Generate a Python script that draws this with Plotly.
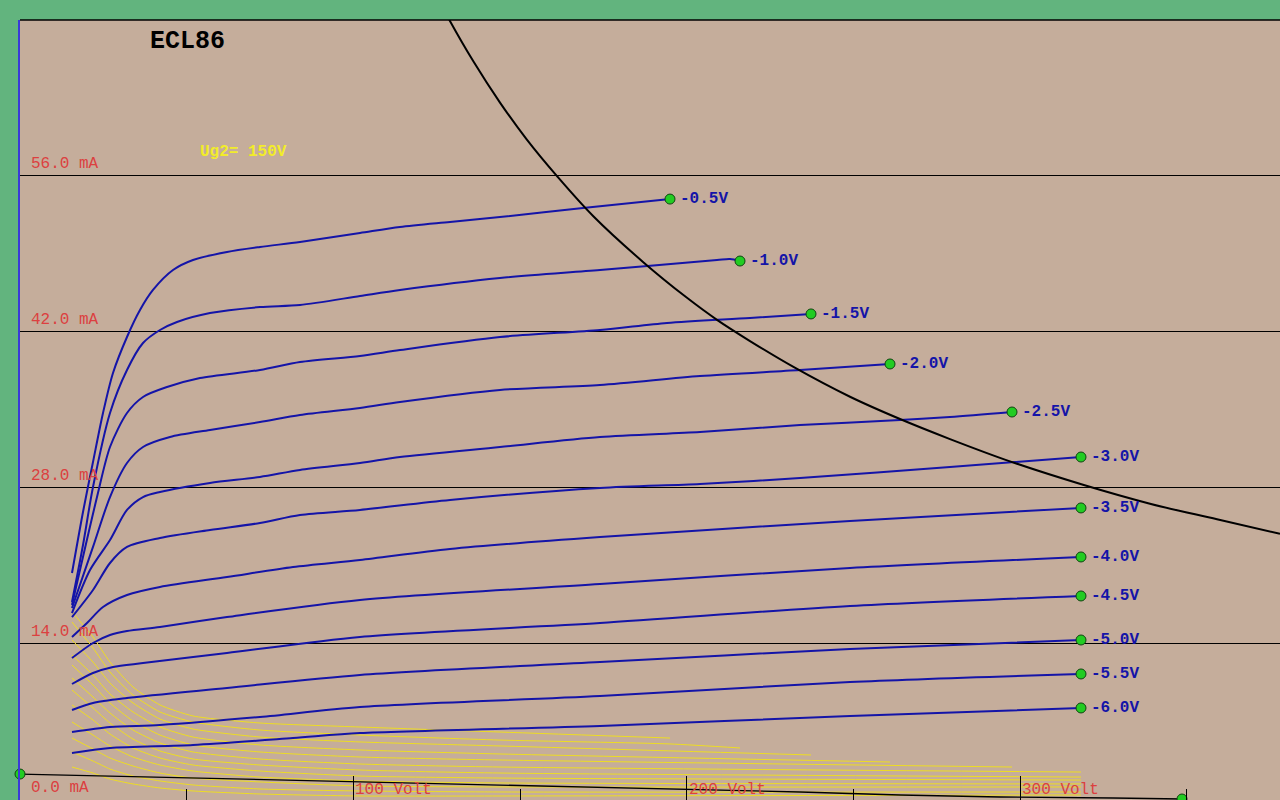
import plotly.graph_objects as go

# ---------------- data ----------------
grid_labels = ["-0.5V", "-1.0V", "-1.5V", "-2.0V", "-2.5V", "-3.0V",
               "-3.5V", "-4.0V", "-4.5V", "-5.0V", "-5.5V", "-6.0V"]

# plate current Ia (mA) vs plate voltage Va (V)
ia_v = [
    [15.6, 18.9, 21.9, 24.9, 27.9, 32.1, 36.0, 39.9, 45.9, 51.9, 62.1, 72.0, 84.0, 102.0, 114.0, 129.0, 144.0, 168.9, 195.0],
    [15.6, 18.9, 21.9, 27.0, 32.1, 36.9, 42.0, 47.1, 57.0, 72.0, 84.0, 102.0, 114.0, 144.0, 174.0, 209.1, 213.0, 216.0],
    [15.6, 23.1, 27.0, 32.1, 36.9, 44.1, 54.0, 72.0, 84.0, 102.0, 114.0, 144.0, 174.0, 194.1, 219.0, 237.3],
    [15.6, 21.9, 27.0, 32.1, 36.9, 45.0, 57.0, 72.0, 84.0, 102.0, 114.0, 144.0, 174.0, 204.0, 234.0, 261.0],
    [15.6, 21.0, 27.0, 32.1, 36.9, 42.0, 57.0, 72.0, 84.0, 102.0, 114.0, 144.0, 174.0, 204.0, 234.0, 264.0, 279.0, 297.6],
    [15.6, 21.9, 27.0, 32.1, 42.0, 57.0, 72.0, 84.0, 102.0, 129.0, 174.0, 204.0, 234.0, 279.0, 318.3],
    [15.6, 20.1, 24.9, 32.1, 42.0, 62.1, 81.9, 102.0, 129.0, 174.0, 249.0, 318.3],
    [15.6, 21.9, 27.0, 32.1, 42.0, 62.1, 102.0, 174.0, 249.0, 318.3],
    [15.6, 21.9, 27.9, 36.9, 62.1, 102.0, 174.0, 249.0, 318.3],
    [15.6, 21.9, 32.1, 62.1, 102.0, 174.0, 249.0, 318.3],
    [15.6, 27.0, 42.0, 72.0, 102.0, 174.0, 249.0, 318.3],
    [15.6, 27.0, 51.9, 81.9, 102.0, 174.0, 249.0, 318.3],
]
ia_ma = [
    [20.28, 25.76, 30.24, 34.64, 38.23, 41.46, 43.88, 45.68, 47.47, 48.37, 49.09, 49.54, 49.99, 50.80, 51.34, 51.79, 52.23, 53.04, 53.84],
    [17.68, 22.79, 28.00, 34.64, 38.50, 40.92, 42.09, 42.81, 43.61, 44.15, 44.33, 45.14, 45.68, 46.76, 47.47, 48.37, 48.46, 48.28],
    [17.41, 27.10, 31.59, 34.64, 36.08, 36.97, 37.78, 38.50, 39.22, 39.76, 40.29, 41.46, 42.09, 42.72, 43.17, 43.53],
    [17.14, 22.62, 27.10, 30.15, 31.59, 32.49, 33.12, 33.83, 34.46, 35.09, 35.63, 36.71, 37.15, 37.96, 38.50, 39.04],
    [16.69, 20.55, 23.24, 25.94, 27.10, 27.55, 28.36, 28.90, 29.53, 30.15, 30.69, 31.59, 32.49, 32.94, 33.56, 34.01, 34.28, 34.73],
    [16.33, 18.76, 21.18, 22.62, 23.42, 24.14, 24.77, 25.49, 25.94, 26.83, 27.91, 28.27, 28.81, 29.79, 30.69],
    [14.54, 15.79, 17.23, 18.31, 19.03, 19.92, 20.82, 21.45, 22.44, 23.51, 24.95, 26.12],
    [12.65, 14.00, 14.72, 15.08, 15.44, 16.33, 17.86, 19.29, 20.73, 21.72],
    [10.32, 11.31, 11.85, 12.20, 13.10, 14.54, 15.79, 17.32, 18.22],
    [7.99, 8.62, 9.06, 9.96, 11.13, 12.29, 13.46, 14.27],
    [6.01, 6.46, 6.64, 7.36, 8.26, 9.24, 10.50, 11.22],
    [4.13, 4.58, 4.85, 5.47, 5.92, 6.55, 7.45, 8.17],
]

# screen grid current Ig2 (mA) vs plate voltage
ig2_v = [
    [15.6, 21.9, 27.0, 33.9, 42.0, 51.9, 72.0, 102.0, 144.0, 195.0],
    [15.6, 21.9, 27.0, 33.9, 42.0, 51.9, 72.0, 102.0, 144.0, 195.0, 216.0],
    [15.6, 21.9, 27.0, 33.9, 42.0, 51.9, 72.0, 102.0, 144.0, 237.3],
    [15.6, 21.9, 27.0, 33.9, 42.0, 51.9, 72.0, 102.0, 144.0, 261.0],
    [15.6, 21.9, 27.0, 33.9, 42.0, 51.9, 72.0, 102.0, 144.0, 297.6],
    [15.6, 21.9, 27.0, 33.9, 42.0, 51.9, 72.0, 102.0, 144.0, 318.3],
    [15.6, 21.9, 27.0, 33.9, 42.0, 51.9, 72.0, 102.0, 144.0, 318.3],
    [15.6, 21.9, 27.0, 33.9, 42.0, 51.9, 72.0, 102.0, 144.0, 318.3],
    [15.6, 21.9, 27.0, 33.9, 42.0, 51.9, 72.0, 102.0, 144.0, 318.3],
    [15.6, 21.9, 27.0, 33.9, 42.0, 51.9, 72.0, 102.0, 144.0, 318.3],
    [15.6, 21.9, 27.0, 33.9, 42.0, 51.9, 72.0, 102.0, 144.0, 318.3],
    [15.6, 21.9, 27.0, 33.9, 42.0, 51.9, 72.0, 102.0, 144.0, 318.3],
]
ig2_ma = [
    [16.78, 14.54, 12.29, 10.05, 8.44, 7.45, 6.82, 6.46, 6.01, 5.47],
    [15.88, 13.55, 11.40, 9.33, 7.81, 6.91, 6.19, 5.74, 5.29, 4.94, 4.58],
    [14.27, 12.29, 10.41, 8.62, 7.18, 6.28, 5.56, 5.12, 4.76, 3.95],
    [12.92, 11.13, 9.42, 7.81, 6.46, 5.56, 4.85, 4.40, 4.04, 3.32],
    [12.02, 10.23, 8.62, 7.00, 5.74, 4.85, 4.22, 3.77, 3.50, 2.87],
    [10.86, 9.15, 7.72, 6.19, 5.03, 4.22, 3.59, 3.14, 2.87, 2.42],
    [9.78, 8.17, 6.82, 5.38, 4.31, 3.59, 3.05, 2.60, 2.33, 1.97],
    [8.44, 7.09, 5.83, 4.58, 3.68, 3.05, 2.51, 2.06, 1.88, 1.70],
    [6.91, 5.74, 4.76, 3.77, 3.05, 2.51, 1.97, 1.62, 1.44, 1.35],
    [5.47, 4.49, 3.68, 2.96, 2.33, 1.88, 1.53, 1.17, 1.08, 1.08],
    [4.22, 3.41, 2.69, 2.06, 1.62, 1.26, 0.90, 0.72, 0.63, 0.63],
    [2.87, 2.33, 1.79, 1.35, 0.99, 0.72, 0.45, 0.27, 0.27, 0.36],
]

# max plate dissipation curve
pmax_v = [122.0, 128.1, 136.0, 144.0, 152.0, 161.1, 172.0, 186.9, 200.0, 209.1, 219.0,
          231.9, 249.0, 264.0, 279.0, 297.0, 318.9, 339.0, 359.1, 378.0]
pmax_ma = [73.8, 70.3, 66.2, 62.5, 59.2, 55.9, 52.3, 48.2, 45.0, 43.0, 41.1,
           38.8, 36.1, 34.1, 32.3, 30.3, 28.2, 26.5, 25.1, 23.8]

# low current line along the bottom
low_v = [0.0, 39.9, 69.9, 99.9, 129.0, 167.1, 194.1, 234.0, 264.0, 294.0, 327.9, 348.6]
low_ma = [2.24, 1.97, 1.79, 1.53, 1.35, 1.08, 0.90, 0.63, 0.36, 0.18, 0.09, 0.0]

y_ticks = [0, 14, 28, 42, 56]
y_tick_labels = ["0.0 mA", "14.0 mA", "28.0 mA", "42.0 mA", "56.0 mA"]
x_ticks = [100, 200, 300]
x_tick_labels = ["100 Volt", "200 Volt", "300 Volt"]

title_text = "ECL86"
ug2_text = "Ug2= 150V"

# ---------------- styling ----------------
BLUE = "#1414A8"
YELLOW = "#EEDD22"
RED = "#DC4040"
GREEN_DOT = "#22CC22"
MONO = "Liberation Mono, Courier New, monospace"

fig = go.Figure()

# screen current curves (yellow)
for v, i in zip(ig2_v, ig2_ma):
    fig.add_trace(go.Scatter(x=v, y=i, mode="lines",
                             line=dict(color=YELLOW, width=1, shape="spline", smoothing=0.6),
                             hoverinfo="skip", showlegend=False))

# low-current line
fig.add_trace(go.Scatter(x=low_v, y=low_ma, mode="lines",
                         line=dict(color="black", width=1.3),
                         hoverinfo="skip", showlegend=False))
fig.add_trace(go.Scatter(x=[low_v[0], low_v[-1]], y=[low_ma[0], low_ma[-1]], mode="markers",
                         marker=dict(color=GREEN_DOT, size=10, line=dict(color="#114411", width=1)),
                         cliponaxis=False, hoverinfo="skip", showlegend=False))

# plate current curves (blue)
for v, i, lab in zip(ia_v, ia_ma, grid_labels):
    fig.add_trace(go.Scatter(x=v, y=i, mode="lines",
                             line=dict(color=BLUE, width=2, shape="spline", smoothing=0.8),
                             name=lab, showlegend=False))

# max dissipation curve
fig.add_trace(go.Scatter(x=pmax_v, y=pmax_ma, mode="lines",
                         line=dict(color="black", width=2, shape="spline", smoothing=1.0),
                         hoverinfo="skip", showlegend=False))

# end markers
fig.add_trace(go.Scatter(x=[v[-1] for v in ia_v], y=[i[-1] for i in ia_ma], mode="markers",
                         marker=dict(color=GREEN_DOT, size=10, line=dict(color="#114411", width=1)),
                         hoverinfo="skip", showlegend=False))

annotations = []
for v, i, lab in zip(ia_v, ia_ma, grid_labels):
    annotations.append(dict(x=v[-1], y=i[-1], text="<b>" + lab + "</b>", showarrow=False,
                            xanchor="left", yanchor="middle", xshift=8,
                            font=dict(family=MONO, size=16, color=BLUE)))
for yt, lab in zip(y_ticks, y_tick_labels):
    annotations.append(dict(x=2.7, y=yt, text=lab, showarrow=False,
                            xanchor="left", yanchor="bottom", yshift=0,
                            font=dict(family=MONO, size=16, color=RED)))
for xt, lab in zip(x_ticks, x_tick_labels):
    annotations.append(dict(x=xt, y=0, text=lab, showarrow=False,
                            xanchor="left", yanchor="bottom", xshift=0, yshift=-2,
                            font=dict(family=MONO, size=16, color=RED)))
annotations.append(dict(x=38.5, y=68.0, text="<b>" + title_text + "</b>", showarrow=False,
                        xanchor="left", yanchor="middle",
                        font=dict(family=MONO, size=25, color="black")))
annotations.append(dict(x=53.5, y=58.1, text="<b>" + ug2_text + "</b>", showarrow=False,
                        xanchor="left", yanchor="middle",
                        font=dict(family=MONO, size=16, color="#F2EC2A")))

fig.update_layout(
    width=1280, height=800,
    margin=dict(l=20, r=0, t=20, b=0),
    paper_bgcolor="#62B47E",
    plot_bgcolor="#C5AD9B",
    showlegend=False,
    annotations=annotations,
    shapes=[dict(type="line", xref="paper", yref="paper", x0=0, x1=1, y0=1, y1=1,
                 line=dict(color="black", width=1.5))],
    xaxis=dict(range=[0, 378], showgrid=False, zeroline=False,
               showline=True, linecolor="#7B78E8", linewidth=2,
               ticks="inside", tickvals=x_ticks, ticklen=24, tickwidth=1, tickcolor="black",
               showticklabels=False,
               minor=dict(ticks="inside", tickvals=[50, 150, 250, 350], ticklen=11,
                          tickcolor="black", tickwidth=1)),
    yaxis=dict(range=[-0.09, 69.91], tickvals=y_ticks, showgrid=True,
               gridcolor="black", gridwidth=1, zeroline=False,
               showline=True, linecolor="#3A3AD8", linewidth=1.5,
               showticklabels=False, ticks=""),
)

fig.write_html("out.html", config={"displayModeBar": False},
               post_script="document.body.style.margin='0';document.body.style.overflow='hidden';")
